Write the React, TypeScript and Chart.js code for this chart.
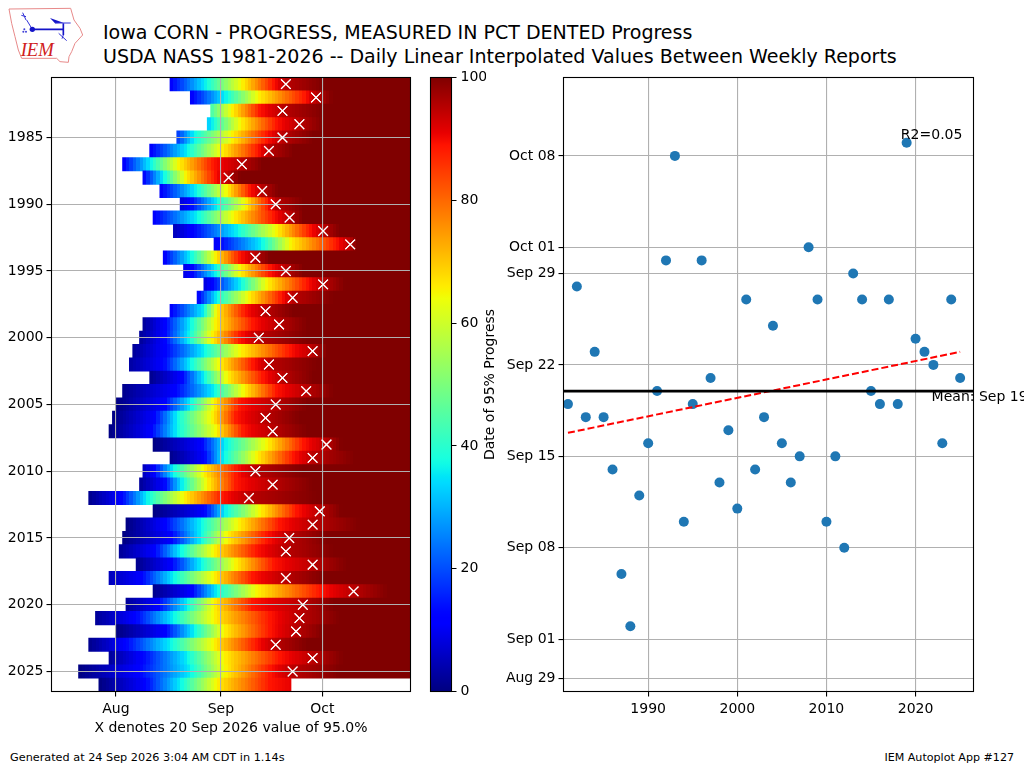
import React, { useEffect, useRef } from "react";
import { Chart, registerables } from "chart.js";

Chart.register(...registerables);

const FONT = "'DejaVu Sans'";

// Left panel: crop season rows
const years = [1981,1982,1983,1984,1985,1986,1987,1988,1989,1990,1991,1992,1993,1994,1995,1996,1997,1998,1999,2000,2001,2002,2003,2004,2005,2006,2007,2008,2009,2010,2011,2012,2013,2014,2015,2016,2017,2018,2019,2020,2021,2022,2023,2024,2025,2026];
const dayStart = [229,235,241,240,231,223,215,221,226,232,224,230,242,227,233,239,237,229,221,220,218,217,223,215,213,212,211,224,229,221,220,205,224,216,215,214,219,211,224,216,207,213,205,211,202,208];
const pctStart = [11,11,43,32,17,11,11,11,11,8,11,5,10,11,9,8,11,11,2,2,2,3,1,1,0,0,0,0,1,5,2,1,0,0,0,2,1,5,1,2,2,0,1,2,0,0];
const dayBlue = [null,null,null,null,null,null,null,null,null,234.5,null,235,243,null,235,240.9,null,null,227.1,227,227,226.6,232,230,227,224.2,223.2,237.9,238.9,224.2,227,214.3,238.9,227,229,224.2,229,220.2,235,225.1,218.3,227,215.3,220.2,219.2,221.2];
const dayCyan = [239.4,245.3,null,241.4,236,234,223.2,227.1,236.5,242.8,236.9,248.7,256.1,235,242.4,249.7,242.8,238.9,235,234.5,238.9,235,238.9,241.9,235,231,231,245.3,244.8,230,232.5,222.2,245.3,237.9,237.9,232,237.9,230,242.8,234,230,236,229,234,235,232];
const dayYellow = [250.2,255,247.3,249.7,247.3,244.3,231.5,233.5,245.8,251.2,247.8,260.5,264.5,242.4,249.7,257.6,252.2,242.8,242.4,241.4,249.7,243.8,245.8,250.7,241.9,241.4,242.8,257.6,254.6,238.9,239.9,233,255.6,249.2,245.8,241.9,248.3,241.9,254.6,241.9,241.9,244.8,241.9,244.8,245.3,242.8];
const dayRed = [259.6,268.9,255.6,260.5,257.6,255.1,241.9,242.4,252.7,258.1,259.6,270.4,278.2,249.7,258.6,269.4,262,251.2,253.6,249.7,264.5,253.6,256.6,260.5,249.7,248.7,250.7,268.4,265.5,248.7,248.7,244.8,266.4,261.5,257.6,254.6,259.6,253.6,273.3,253.6,258.6,258.6,254.6,261.5,258.6,258.6];
const dayX = [263.2,272.1,262.2,267.2,262.2,258.2,250.2,246.3,256.2,260.2,264.3,274.2,282.2,254.2,263.2,274.2,265.2,257.2,261.2,255.2,271.1,258.2,262.2,269.2,260.2,257.2,259.3,275.2,271.1,254.2,259.3,252.3,273.2,271.1,264.2,263.2,271.1,263.2,283.2,268.2,267.2,266.2,260.2,271.1,265.2,null];
const dayFull = [274,277,274.3,274.3,271.3,265.5,256.6,249.7,261,268.4,268.4,279.2,284.1,258.6,268.4,280.7,277.3,265.5,269.4,269.4,275.3,272.3,271.3,277.3,269.4,267.4,269.4,279.7,283.6,268.4,271.3,272.3,279.7,285.1,275.3,277.3,281.2,274.3,293.5,277.3,279.2,274.3,269.4,280.2,279.2,264.7];
const latestYearLastPct = 91;
const anchorPcts = [11, 36, 65, 89, 95, 100];
const monthTicks = [213, 244, 274];
const monthLabels = ["Aug", "Sep", "Oct"];
const yearTicks = [1985,1990,1995,2000,2005,2010,2015,2020,2025];

// Colour bar
const colorTicks = [0, 20, 40, 60, 80, 100];

// Right panel: date of 95% progress
const scatterYears = [1981,1982,1983,1984,1985,1986,1987,1988,1989,1990,1991,1992,1993,1994,1995,1996,1997,1998,1999,2000,2001,2002,2003,2004,2005,2006,2007,2008,2009,2010,2011,2012,2013,2014,2015,2016,2017,2018,2019,2020,2021,2022,2023,2024,2025];
const scatterDays = [262,271,261,266,261,257,249,245,255,259,263,273,281,253,262,273,264,256,260,254,270,257,261,268,259,256,258,274,270,253,258,251,272,270,263,262,270,262,282,267,266,265,259,270,264];
const fitYears = [1981, 2025];
const fitDays = [259.8, 266];
const meanYears = [1980.5, 2026.5];
const meanDay = 263;
const dateTickDays = [241, 244, 251, 258, 265, 272, 274, 281];
const dateTickLabels = ["Aug 29", "Sep 01", "Sep 08", "Sep 15", "Sep 22", "Sep 29", "Oct 01", "Oct 08"];
const scatterYearTicks = [1990, 2000, 2010, 2020];

const jetRed = [[0,0],[0.35,0],[0.66,1],[0.89,1],[1,0.5]];
const jetGreen = [[0,0],[0.125,0],[0.375,1],[0.64,1],[0.91,0],[1,0]];
const jetBlue = [[0,0.5],[0.11,1],[0.34,1],[0.65,0],[1,0]];

function lerp(pts: number[][], x: number) {
  if (x <= pts[0][0]) return pts[0][1];
  for (let i = 1; i < pts.length; i++) {
    if (x <= pts[i][0]) {
      const [a, b] = pts[i - 1];
      const [c, d] = pts[i];
      return c === a ? d : b + ((d - b) * (x - a)) / (c - a);
    }
  }
  return pts[pts.length - 1][1];
}
function jet(p: number) {
  const t = Math.min(1, Math.max(0, p / 100));
  const c = (s: number[][]) => Math.round(lerp(s, t) * 255);
  return `rgb(${c(jetRed)},${c(jetGreen)},${c(jetBlue)})`;
}

function rowAnchors(i: number) {
  const days = [dayBlue[i], dayCyan[i], dayYellow[i], dayRed[i], dayX[i], dayFull[i]];
  const pts: number[][] = [[dayStart[i], pctStart[i]]];
  days.forEach((d, k) => {
    if (d === null) return;
    const last = k === days.length - 1 && dayX[i] === null;
    pts.push([d as number, last ? latestYearLastPct : anchorPcts[k]]);
  });
  return pts;
}

const framePlugin = {
  id: "frame",
  afterDraw(chart: any) {
    const { ctx, chartArea: a } = chart;
    ctx.save();
    ctx.strokeStyle = "#000";
    ctx.lineWidth = 1.1;
    ctx.strokeRect(a.left, a.top, a.right - a.left, a.bottom - a.top);
    ctx.restore();
  },
};

const tickFont = { family: FONT, size: 14 };

export default function App() {
  const leftRef = useRef<HTMLCanvasElement>(null);
  const barRef = useRef<HTMLCanvasElement>(null);
  const rightRef = useRef<HTMLCanvasElement>(null);

  useEffect(() => {
    const left = new Chart(leftRef.current as any, {
      type: "bar",
      data: {
        datasets: [
          {
            type: "bar",
            indexAxis: "y",
            barPercentage: 1,
            categoryPercentage: 1,
            inflateAmount: 0.4,
            borderWidth: 0,
            order: 2,
            data: years.map((y, i) => ({
              y,
              x: [dayStart[i], dayX[i] === null ? dayFull[i] : 300],
            })),
            backgroundColor: (ctx: any) => {
              const { chart, dataIndex } = ctx;
              const xs = chart.scales.x;
              if (!chart.chartArea || !xs || dataIndex === undefined) return "#800000";
              const g = chart.ctx.createLinearGradient(xs.getPixelForValue(xs.min), 0, xs.getPixelForValue(xs.max), 0);
              const pts = rowAnchors(dataIndex);
              const span = xs.max - xs.min;
              for (let d = Math.floor(dayStart[dataIndex]); d < xs.max; d++) {
                const col = jet(lerp(pts, d + 0.5));
                g.addColorStop(Math.max(0, (d - xs.min) / span), col);
                g.addColorStop(Math.min(1, (d + 1 - xs.min) / span), col);
              }
              return g;
            },
          },
          {
            type: "scatter",
            order: 1,
            pointStyle: "crossRot",
            pointRadius: 6.8,
            pointBorderWidth: 1.1,
            pointBorderColor: "#fff",
            pointBackgroundColor: "#fff",
            data: years
              .map((y, i) => ({ x: dayX[i], y }))
              .filter((p) => p.x !== null),
          },
        ],
      } as any,
      options: {
        responsive: false,
        animation: false,
        layout: { padding: { left: 0, top: 17.5, right: 14.5, bottom: 0 } },
        plugins: { legend: { display: false }, tooltip: { enabled: false } },
        scales: {
          x: {
            type: "linear",
            offset: false,
            min: 194,
            max: 300,
            afterBuildTicks: (s: any) => { s.ticks = monthTicks.map((value) => ({ value })); },
            afterFit: (s: any) => { s.height = 48.5; },
            ticks: {
              font: tickFont, color: "#000", autoSkip: false, maxRotation: 0, padding: 4,
              callback: (v: any) => monthLabels[monthTicks.indexOf(v)],
            },
            grid: { offset: false, color: "#b0b0b0", lineWidth: 1.1, z: 1, tickColor: "#000", tickLength: 5 },
            border: { display: false },
            title: {
              display: true, text: "X denotes 20 Sep 2026 value of 95.0%",
              font: tickFont, color: "#000", padding: { top: 0, bottom: 3 },
            },
          },
          y: {
            type: "linear",
            offset: false,
            reverse: true,
            min: 1980.5,
            max: 2026.5,
            afterBuildTicks: (s: any) => { s.ticks = yearTicks.map((value) => ({ value })); },
            afterFit: (s: any) => { s.width = 51.5; },
            ticks: {
              font: tickFont, color: "#000", autoSkip: false, padding: 3,
              callback: (v: any) => String(v),
            },
            grid: { offset: false, color: "#b0b0b0", lineWidth: 1.1, z: 1, tickColor: "#000", tickLength: 5 },
            border: { display: false },
          },
        },
      } as any,
      plugins: [
        {
          id: "xOnTop",
          afterDraw(chart: any) {
            chart.getDatasetMeta(1).data.forEach((el: any) => el.draw(chart.ctx));
          },
        },
        framePlugin,
      ],
    });

    const bar = new Chart(barRef.current as any, {
      type: "bar",
      data: {
        labels: ["progress"],
        datasets: [
          {
            data: [[0, 100]],
            barPercentage: 1,
            categoryPercentage: 1,
            inflateAmount: 0,
            borderWidth: 0,
            backgroundColor: (ctx: any) => {
              const { chart } = ctx;
              if (!chart.chartArea) return "#000";
              const { top, bottom } = chart.chartArea;
              const g = chart.ctx.createLinearGradient(0, bottom, 0, top);
              for (let k = 0; k <= 100; k++) g.addColorStop(k / 100, jet(k));
              return g;
            },
          },
        ],
      } as any,
      options: {
        responsive: false,
        animation: false,
        layout: { padding: { left: 5.5, top: 17.5, right: 0, bottom: 48.5 } },
        plugins: { legend: { display: false }, tooltip: { enabled: false } },
        scales: {
          x: { display: false, afterFit: (s: any) => { s.height = 0; } },
          y: {
            position: "right",
            min: 0,
            max: 100,
            afterBuildTicks: (s: any) => { s.ticks = colorTicks.map((value) => ({ value })); },
            afterFit: (s: any) => { s.width = 34.5; },
            ticks: { font: tickFont, color: "#000", padding: 4 },
            grid: { drawOnChartArea: false, tickColor: "#000", tickLength: 5 },
            border: { display: false },
          },
        },
      } as any,
      plugins: [framePlugin],
    });

    const right = new Chart(rightRef.current as any, {
      type: "scatter",
      data: {
        datasets: [
          {
            data: scatterYears.map((x, i) => ({ x, y: scatterDays[i] })),
            pointRadius: 5,
            pointBackgroundColor: "#1f77b4",
            pointBorderColor: "#1f77b4",
            pointBorderWidth: 0,
            order: 3,
          },
          {
            data: fitYears.map((x, i) => ({ x, y: fitDays[i] })),
            showLine: true,
            pointRadius: 0,
            borderColor: "#ff0000",
            borderWidth: 2,
            borderDash: [7, 3],
            order: 2,
          },
          {
            data: meanYears.map((x) => ({ x, y: meanDay })),
            showLine: true,
            pointRadius: 0,
            borderColor: "#000",
            borderWidth: 2.8,
            order: 1,
          },
        ],
      } as any,
      options: {
        responsive: false,
        animation: false,
        layout: { padding: { left: 0, top: 17.5, right: 50.5, bottom: 0 } },
        plugins: { legend: { display: false }, tooltip: { enabled: false } },
        scales: {
          x: {
            type: "linear",
            min: 1980.5,
            max: 2026.5,
            afterBuildTicks: (s: any) => { s.ticks = scatterYearTicks.map((value) => ({ value })); },
            afterFit: (s: any) => { s.height = 48.5; },
            ticks: { font: tickFont, color: "#000", autoSkip: false, maxRotation: 0, padding: 4, callback: (v: any) => String(v) },
            grid: { color: "#b0b0b0", lineWidth: 1.1, tickColor: "#000", tickLength: 5 },
            border: { display: false },
          },
          y: {
            type: "linear",
            min: 240,
            max: 287,
            afterBuildTicks: (s: any) => { s.ticks = dateTickDays.map((value) => ({ value })); },
            afterFit: (s: any) => { s.width = 83.5; },
            ticks: {
              font: tickFont, color: "#000", autoSkip: false, padding: 3,
              callback: (v: any) => dateTickLabels[dateTickDays.indexOf(v)],
            },
            grid: { color: "#b0b0b0", lineWidth: 1.1, tickColor: "#000", tickLength: 5 },
            border: { display: false },
            title: {
              display: true, text: "Date of 95% Progress",
              font: tickFont, color: "#000", padding: { top: 2, bottom: 0 },
            },
          },
        },
      } as any,
      plugins: [
        framePlugin,
        {
          id: "notes",
          afterDraw(chart: any) {
            const { ctx, scales } = chart;
            ctx.save();
            ctx.font = `14px ${FONT}`;
            ctx.fillStyle = "#000";
            ctx.textAlign = "left";
            ctx.textBaseline = "alphabetic";
            ctx.fillText("R2=0.05", scales.x.getPixelForValue(2018.35), scales.y.getPixelForValue(282.32));
            ctx.fillText("Mean: Sep 19", scales.x.getPixelForValue(2021.8), scales.y.getPixelForValue(262.2));
            ctx.restore();
          },
        },
      ],
    });

    return () => {
      left.destroy();
      bar.destroy();
      right.destroy();
    };
  }, []);

  const abs = (l: number, t: number): React.CSSProperties => ({ position: "absolute", left: l, top: t });
  const text: React.CSSProperties = { fontFamily: FONT, color: "#000", whiteSpace: "nowrap", lineHeight: 1 };

  return (
    <div style={{ position: "absolute", left: 0, top: 0, width: 1024, height: 768, overflow: "hidden", background: "#fff" }}>
      <svg style={abs(0, 0)} width={100} height={70} viewBox="0 0 300 210">
        <path d="M27 27 L212 25 L222 60 L240 85 L248 105 L225 130 L215 155 L207 170 L205 187 L180 185 L170 175 L65 175 L55 150 L45 110 L35 70 Z" fill="none" stroke="#e88a8a" strokeWidth="3" />
        <path d="M97 88 L190 88 M190 70 L190 105" fill="none" stroke="#1414c8" strokeWidth="5" />
        <path d="M150 54 L190 68 L165 70 Z" fill="#1414c8" />
        <path d="M165 69 L212 69 M80 60 L97 88 M68 38 L78 60 M64 46 L78 50 M176 100 L200 122 M190 105 L186 116" fill="none" stroke="#3030d8" strokeWidth="3" />
        <circle cx="97" cy="88" r="8" fill="#1414c8" />
        <circle cx="73" cy="88" r="3" fill="#4040d8" />
        <circle cx="70" cy="95" r="3" fill="#4040d8" />
        <circle cx="78" cy="95" r="3" fill="#4040d8" />
        <text x="62" y="168" fill="#d02020" fontFamily="'Liberation Serif'" fontStyle="italic" fontSize="56">IEM</text>
      </svg>
      <div style={{ ...abs(103, 23), ...text, fontSize: 19.05 }}>Iowa CORN - PROGRESS, MEASURED IN PCT DENTED Progress</div>
      <div style={{ ...abs(103, 47), ...text, fontSize: 19.05 }}>USDA NASS 1981-2026 -- Daily Linear Interpolated Values Between Weekly Reports</div>
      <canvas ref={leftRef} width={425} height={680} style={abs(0, 60)} />
      <canvas ref={barRef} width={61} height={680} style={abs(425, 60)} />
      <canvas ref={rightRef} width={544} height={680} style={abs(480, 60)} />
      <div style={{ ...abs(10, 752), ...text, fontSize: 11.25 }}>Generated at 24 Sep 2026 3:04 AM CDT in 1.14s</div>
      <div style={{ position: "absolute", right: 10, top: 752, ...text, fontSize: 11.1 }}>IEM Autoplot App #127</div>
    </div>
  );
}
